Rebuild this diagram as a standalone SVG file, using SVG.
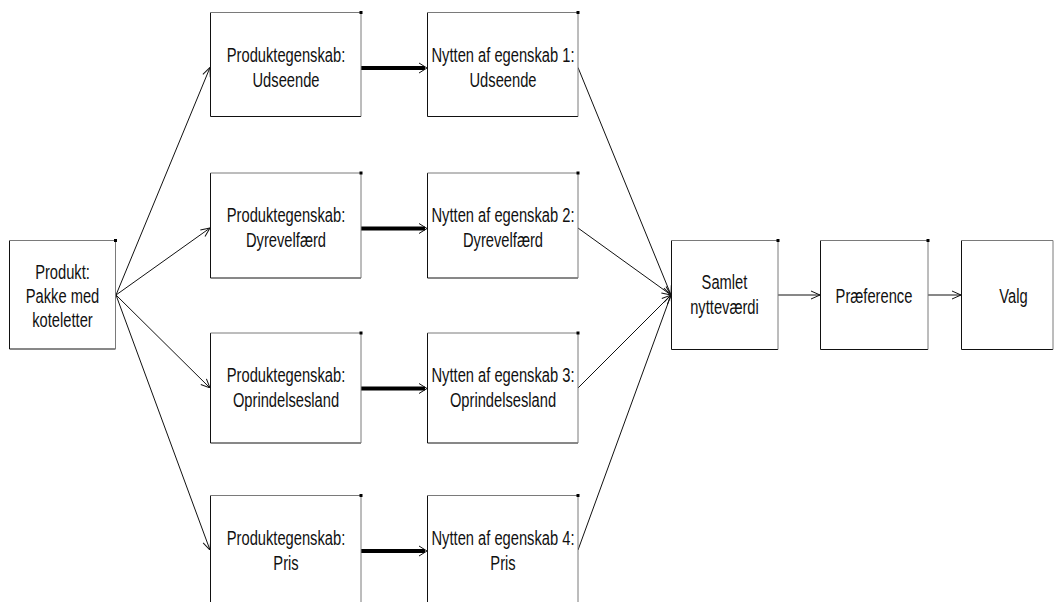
<svg xmlns="http://www.w3.org/2000/svg" width="1055" height="602" viewBox="0 0 1055 602">
  <style>
    .edge-lb { fill: none; stroke: #111; stroke-width: 1; }
    .edge-tr { fill: none; stroke: #7a7a7a; stroke-width: 1; }
    .box { fill: #fff; stroke: none; }
    .dot { fill: #000; }
    .lbl { font-family: "Liberation Sans", Arial, sans-serif; font-size: 20px; fill: #111; text-anchor: middle; }
    .thin { fill: none; stroke: #111; stroke-width: 1; }
    .thick { fill: none; stroke: #000; stroke-width: 4; }
  </style>
  <defs>
    <marker id="arr" viewBox="0 0 10 10" refX="10" refY="5" markerWidth="10" markerHeight="10" markerUnits="userSpaceOnUse" orient="auto">
      <path d="M1,1 L10,5 L1,9" fill="none" stroke="#111" stroke-width="1"/>
    </marker>
    <marker id="arrT" viewBox="0 0 10 10" refX="10" refY="5" markerWidth="2.5" markerHeight="2.5" orient="auto">
      <path d="M1,1 L10,5 L1,9" fill="none" stroke="#111" stroke-width="0.25"/>
    </marker>
  </defs>

  <!-- connectors -->
  <g id="connectors">
    <!-- product to attributes -->
    <line class="thin" x1="116" y1="295" x2="210" y2="67.5" marker-end="url(#arr)"/>
    <line class="thin" x1="116" y1="295" x2="210" y2="228" marker-end="url(#arr)"/>
    <line class="thin" x1="116" y1="295" x2="210" y2="388" marker-end="url(#arr)"/>
    <line class="thin" x1="116" y1="295" x2="210" y2="550" marker-end="url(#arr)"/>
    <!-- attribute to utility (heavy) -->
    <line class="thick" x1="361" y1="68" x2="425" y2="68"/>
    <line class="thick" x1="361" y1="228.5" x2="425" y2="228.5"/>
    <line class="thick" x1="361" y1="388.5" x2="425" y2="388.5"/>
    <line class="thick" x1="361" y1="551" x2="425" y2="551"/>
    <path class="thin" d="M419,63 L427,68 L419,73"/>
    <path class="thin" d="M419,223.5 L427,228.5 L419,233.5"/>
    <path class="thin" d="M419,383.5 L427,388.5 L419,393.5"/>
    <path class="thin" d="M419,546 L427,551 L419,556"/>
    <!-- utilities to total -->
    <line class="thin" x1="578" y1="67.5" x2="671" y2="295" marker-end="url(#arr)"/>
    <line class="thin" x1="578" y1="228" x2="671" y2="295" marker-end="url(#arr)"/>
    <line class="thin" x1="578" y1="388" x2="671" y2="295" marker-end="url(#arr)"/>
    <line class="thin" x1="578" y1="550" x2="671" y2="295" marker-end="url(#arr)"/>
    <!-- chain to choice -->
    <line class="thin" x1="778" y1="295" x2="820" y2="295" marker-end="url(#arr)"/>
    <line class="thin" x1="928" y1="295" x2="961" y2="295" marker-end="url(#arr)"/>
  </g>

  <!-- product -->
  <g id="produkt">
    <rect class="box" x="9.5" y="240.5" width="106" height="108.5"/>
    <path class="edge-lb" d="M9.5,240.5 V349 H115.5"/>
    <path class="edge-tr" d="M9.5,240.5 H115.5 V349"/>
    <rect class="dot" x="114" y="239" width="3" height="3"/>
    <g class="lbl">
      <text transform="translate(62.5,278.5) scale(0.735,1)">Produkt:</text>
      <text transform="translate(62.5,303) scale(0.735,1)">Pakke med</text>
      <text transform="translate(62.5,327) scale(0.735,1)">koteletter</text>
    </g>
  </g>

  <!-- attributes -->
  <g id="egenskab-udseende">
    <rect class="box" x="210.5" y="12.5" width="150.5" height="104"/>
    <path class="edge-lb" d="M210.5,12.5 V116.5 H361"/>
    <path class="edge-tr" d="M210.5,12.5 H361 V116.5"/>
    <rect class="dot" x="359.5" y="11" width="3" height="3"/>
    <text class="lbl" transform="translate(286,61.5) scale(0.735,1)">Produktegenskab:</text>
    <text class="lbl" transform="translate(286,86.5) scale(0.735,1)">Udseende</text>
  </g>
  <g id="egenskab-dyrevelfaerd">
    <rect class="box" x="210.5" y="173" width="150.5" height="105"/>
    <path class="edge-lb" d="M210.5,173 V278 H361"/>
    <path class="edge-tr" d="M210.5,173 H361 V278"/>
    <rect class="dot" x="359.5" y="171.5" width="3" height="3"/>
    <text class="lbl" transform="translate(286,222) scale(0.735,1)">Produktegenskab:</text>
    <text class="lbl" transform="translate(286,247) scale(0.735,1)">Dyrevelfærd</text>
  </g>
  <g id="egenskab-oprindelsesland">
    <rect class="box" x="210.5" y="333" width="150.5" height="110"/>
    <path class="edge-lb" d="M210.5,333 V443 H361"/>
    <path class="edge-tr" d="M210.5,333 H361 V443"/>
    <rect class="dot" x="359.5" y="331.5" width="3" height="3"/>
    <text class="lbl" transform="translate(286,382) scale(0.735,1)">Produktegenskab:</text>
    <text class="lbl" transform="translate(286,407) scale(0.735,1)">Oprindelsesland</text>
  </g>
  <g id="egenskab-pris">
    <rect class="box" x="210.5" y="495.5" width="150.5" height="110"/>
    <path class="edge-lb" d="M210.5,495.5 V606"/>
    <path class="edge-tr" d="M210.5,495.5 H361 V606"/>
    <rect class="dot" x="359.5" y="494" width="3" height="3"/>
    <text class="lbl" transform="translate(286,545) scale(0.735,1)">Produktegenskab:</text>
    <text class="lbl" transform="translate(286,569.5) scale(0.735,1)">Pris</text>
  </g>

  <!-- utilities -->
  <g id="nytte-1">
    <rect class="box" x="427.5" y="12.5" width="150.5" height="104"/>
    <path class="edge-lb" d="M427.5,12.5 V116.5 H578"/>
    <path class="edge-tr" d="M427.5,12.5 H578 V116.5"/>
    <rect class="dot" x="576.5" y="11" width="3" height="3"/>
    <text class="lbl" transform="translate(503,61.5) scale(0.735,1)">Nytten af egenskab 1:</text>
    <text class="lbl" transform="translate(503,86.5) scale(0.735,1)">Udseende</text>
  </g>
  <g id="nytte-2">
    <rect class="box" x="427.5" y="173" width="150.5" height="105"/>
    <path class="edge-lb" d="M427.5,173 V278 H578"/>
    <path class="edge-tr" d="M427.5,173 H578 V278"/>
    <rect class="dot" x="576.5" y="171.5" width="3" height="3"/>
    <text class="lbl" transform="translate(503,222) scale(0.735,1)">Nytten af egenskab 2:</text>
    <text class="lbl" transform="translate(503,247) scale(0.735,1)">Dyrevelfærd</text>
  </g>
  <g id="nytte-3">
    <rect class="box" x="427.5" y="333" width="150.5" height="110"/>
    <path class="edge-lb" d="M427.5,333 V443 H578"/>
    <path class="edge-tr" d="M427.5,333 H578 V443"/>
    <rect class="dot" x="576.5" y="331.5" width="3" height="3"/>
    <text class="lbl" transform="translate(503,382) scale(0.735,1)">Nytten af egenskab 3:</text>
    <text class="lbl" transform="translate(503,407) scale(0.735,1)">Oprindelsesland</text>
  </g>
  <g id="nytte-4">
    <rect class="box" x="427.5" y="495.5" width="150.5" height="110"/>
    <path class="edge-lb" d="M427.5,495.5 V606"/>
    <path class="edge-tr" d="M427.5,495.5 H578 V606"/>
    <rect class="dot" x="576.5" y="494" width="3" height="3"/>
    <text class="lbl" transform="translate(503,545) scale(0.735,1)">Nytten af egenskab 4:</text>
    <text class="lbl" transform="translate(503,569.5) scale(0.735,1)">Pris</text>
  </g>

  <!-- total, preference, choice -->
  <g id="samlet">
    <rect class="box" x="671.5" y="240.5" width="106.5" height="109"/>
    <path class="edge-lb" d="M671.5,240.5 V349.5 H778"/>
    <path class="edge-tr" d="M671.5,240.5 H778 V349.5"/>
    <rect class="dot" x="776.5" y="239" width="3" height="3"/>
    <text class="lbl" transform="translate(724.5,289) scale(0.735,1)">Samlet</text>
    <text class="lbl" transform="translate(724.5,313.5) scale(0.735,1)">nytteværdi</text>
  </g>
  <g id="praeference">
    <rect class="box" x="820.5" y="240.5" width="107.5" height="109"/>
    <path class="edge-lb" d="M820.5,240.5 V349.5 H928"/>
    <path class="edge-tr" d="M820.5,240.5 H928 V349.5"/>
    <rect class="dot" x="926.5" y="239" width="3" height="3"/>
    <text class="lbl" transform="translate(874,303) scale(0.735,1)">Præference</text>
  </g>
  <g id="valg">
    <rect class="box" x="961.5" y="240.5" width="91.5" height="109"/>
    <path class="edge-lb" d="M961.5,240.5 V349.5 H1053"/>
    <path class="edge-tr" d="M961.5,240.5 H1053 V349.5"/>
    <text class="lbl" transform="translate(1013.5,303) scale(0.735,1)">Valg</text>
  </g>
</svg>
